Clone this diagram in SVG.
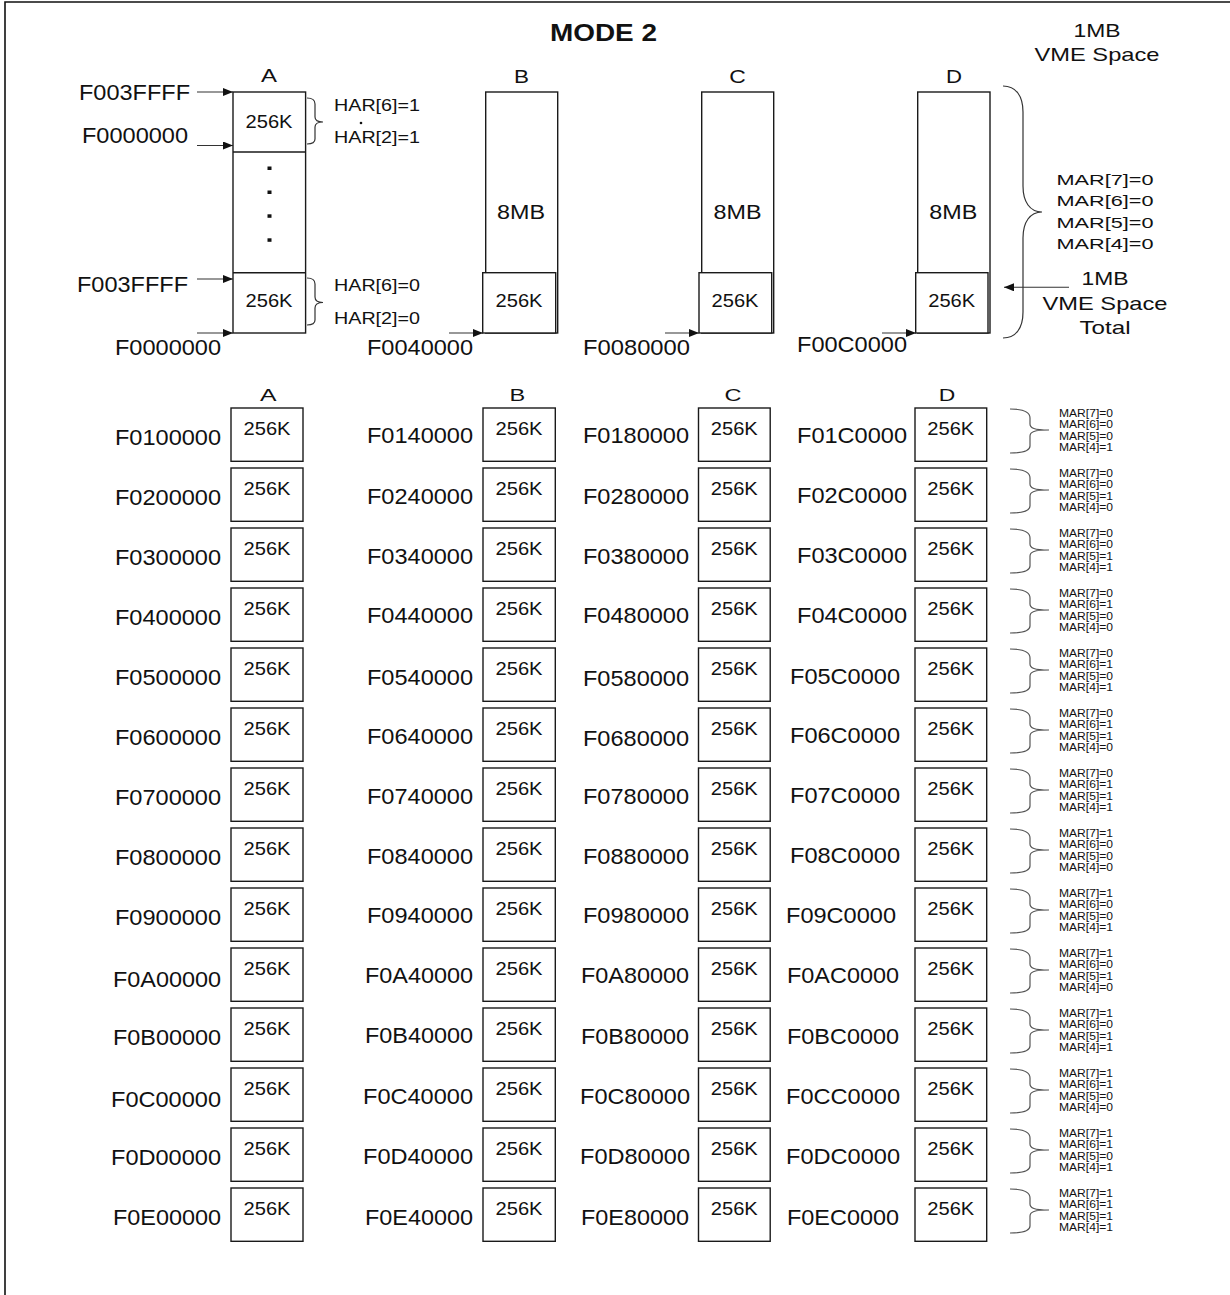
<svg xmlns="http://www.w3.org/2000/svg" xmlns:xlink="http://www.w3.org/1999/xlink" width="1230" height="1295" viewBox="0 0 1230 1295">
<style>
.bg{fill:#fff}
.frame{stroke:#111;stroke-width:1.6;fill:none}
.box{fill:#fff;stroke:#1a1a1a;stroke-width:1.4}
.t{font-family:"Liberation Sans",Arial,sans-serif;fill:#111}
.addr{font-size:21.5px}
.k{font-size:18px;text-anchor:middle}
.mb{font-size:19.5px;text-anchor:middle}
.hd{font-size:17.5px;text-anchor:middle}
.hd2{font-size:16px;text-anchor:middle}
.har{font-size:16px}
.mar{font-size:15.5px;text-anchor:middle}
.vme{font-size:18.5px;text-anchor:middle}
.sm{font-size:10.5px}
.conn{stroke:#333;stroke-width:1.1;fill:none}
.brace{stroke:#333;stroke-width:1.2;fill:none}
.sbrace{stroke:#555;stroke-width:1.2;fill:none}
.dot{fill:#111}
</style>
<defs>
<marker id="ah" markerUnits="userSpaceOnUse" markerWidth="11" markerHeight="9" refX="10" refY="4" orient="auto">
<path d="M0,0 L10,4 L0,8 z" fill="#111"/>
</marker>
<path id="sb" class="sbrace" d="M1010,1 C1022,1 1030,3 1030,10 L1030,16 C1030,20 1034,22 1049,22 C1034,22 1030,24 1030,28 L1030,38 C1030,43 1022,45 1010,45"/>
</defs>
<rect class="bg" x="0" y="0" width="1230" height="1295"/>
<path class="frame" d="M5,1295 L5,2 L1230,2"/>

<text class="t" x="550" y="41" font-size="24" font-weight="bold" textLength="107" lengthAdjust="spacingAndGlyphs">MODE 2</text>
<text class="t vme" x="1097" y="37" textLength="47" lengthAdjust="spacingAndGlyphs">1MB</text>
<text class="t vme" x="1097" y="61" textLength="125" lengthAdjust="spacingAndGlyphs">VME Space</text>

<!-- top columns -->
<g id="col-top-A">
<text class="t hd" x="269" y="82" textLength="16" lengthAdjust="spacingAndGlyphs">A</text>
<rect class="box" x="233" y="92" width="72.6" height="241"/>
<line class="box" x1="233" y1="152" x2="305.6" y2="152"/>
<line class="box" x1="233" y1="272.7" x2="305.6" y2="272.7"/>
<text class="t k" x="269" y="128" textLength="47" lengthAdjust="spacingAndGlyphs">256K</text>
<rect class="dot" x="267.5" y="166.5" width="4" height="3.5"/>
<rect class="dot" x="267.5" y="190.5" width="4" height="3.5"/>
<rect class="dot" x="267.5" y="214.3" width="4" height="3.5"/>
<rect class="dot" x="267.5" y="238.3" width="4" height="3.5"/>
<text class="t k" x="269" y="307" textLength="47" lengthAdjust="spacingAndGlyphs">256K</text>
</g>
<g id="col-top-B">
<text class="t hd" x="521.5" y="82.5" textLength="15" lengthAdjust="spacingAndGlyphs">B</text>
<rect class="box" x="485.7" y="92" width="72" height="241"/>
<text class="t mb" x="521" y="219" textLength="48" lengthAdjust="spacingAndGlyphs">8MB</text>
<rect class="box" x="482.7" y="272.7" width="73" height="60.3"/>
<text class="t k" x="519" y="307" textLength="47" lengthAdjust="spacingAndGlyphs">256K</text>
</g>
<g id="col-top-C">
<text class="t hd" x="737.5" y="82.5" textLength="16.5" lengthAdjust="spacingAndGlyphs">C</text>
<rect class="box" x="701.7" y="92" width="72" height="241"/>
<text class="t mb" x="737.5" y="219" textLength="48" lengthAdjust="spacingAndGlyphs">8MB</text>
<rect class="box" x="699" y="272.7" width="72.7" height="60.3"/>
<text class="t k" x="735" y="307" textLength="47" lengthAdjust="spacingAndGlyphs">256K</text>
</g>
<g id="col-top-D">
<text class="t hd" x="954" y="82.5" textLength="16" lengthAdjust="spacingAndGlyphs">D</text>
<rect class="box" x="917.7" y="92" width="72.3" height="241"/>
<text class="t mb" x="953.3" y="219" textLength="48" lengthAdjust="spacingAndGlyphs">8MB</text>
<rect class="box" x="915.7" y="272.7" width="72.3" height="60.3"/>
<text class="t k" x="951.7" y="307" textLength="47" lengthAdjust="spacingAndGlyphs">256K</text>
</g>

<!-- top labels -->
<g id="top-labels">
<text class="t addr" x="79" y="100" textLength="111" lengthAdjust="spacingAndGlyphs">F003FFFF</text>
<text class="t addr" x="82" y="143" textLength="106" lengthAdjust="spacingAndGlyphs">F0000000</text>
<text class="t addr" x="77" y="292" textLength="111" lengthAdjust="spacingAndGlyphs">F003FFFF</text>
<text class="t addr" x="115" y="355" textLength="106" lengthAdjust="spacingAndGlyphs">F0000000</text>
<text class="t addr" x="367" y="355" textLength="106" lengthAdjust="spacingAndGlyphs">F0040000</text>
<text class="t addr" x="583" y="355" textLength="107" lengthAdjust="spacingAndGlyphs">F0080000</text>
<text class="t addr" x="797" y="352" textLength="110" lengthAdjust="spacingAndGlyphs">F00C0000</text>
<text class="t har" x="334" y="111" textLength="86" lengthAdjust="spacingAndGlyphs">HAR[6]=1</text>
<circle class="dot" cx="361" cy="123" r="1.3"/>
<text class="t har" x="334" y="143" textLength="86" lengthAdjust="spacingAndGlyphs">HAR[2]=1</text>
<text class="t har" x="334" y="291" textLength="86" lengthAdjust="spacingAndGlyphs">HAR[6]=0</text>
<text class="t har" x="334" y="324" textLength="86" lengthAdjust="spacingAndGlyphs">HAR[2]=0</text>
<text class="t mar" x="1105" y="185" textLength="97" lengthAdjust="spacingAndGlyphs">MAR[7]=0</text>
<text class="t mar" x="1105" y="206" textLength="97" lengthAdjust="spacingAndGlyphs">MAR[6]=0</text>
<text class="t mar" x="1105" y="227.5" textLength="97" lengthAdjust="spacingAndGlyphs">MAR[5]=0</text>
<text class="t mar" x="1105" y="249" textLength="97" lengthAdjust="spacingAndGlyphs">MAR[4]=0</text>
<text class="t vme" x="1105" y="285" textLength="47" lengthAdjust="spacingAndGlyphs">1MB</text>
<text class="t vme" x="1105" y="309.5" textLength="125" lengthAdjust="spacingAndGlyphs">VME Space</text>
<text class="t vme" x="1105" y="334" textLength="51" lengthAdjust="spacingAndGlyphs">Total</text>
</g>

<g id="connectors">
<line class="conn" x1="197" y1="92" x2="233" y2="92" marker-end="url(#ah)"/>
<line class="conn" x1="197" y1="145.5" x2="233" y2="145.5" marker-end="url(#ah)"/>
<line class="conn" x1="197" y1="279" x2="233" y2="279" marker-end="url(#ah)"/>
<line class="conn" x1="197" y1="333" x2="233" y2="333" marker-end="url(#ah)"/>
<line class="conn" x1="449" y1="333" x2="483" y2="333" marker-end="url(#ah)"/>
<line class="conn" x1="665" y1="333" x2="699" y2="333" marker-end="url(#ah)"/>
<line class="conn" x1="882" y1="333" x2="916" y2="333" marker-end="url(#ah)"/>
<line class="conn" x1="1069" y1="287.3" x2="1004" y2="287.3" marker-end="url(#ah)"/>
<path class="brace" d="M307,98 C312,98 315,100 315,104 L315,117 C315,120 317,122 323,122 C317,122 315,124 315,127 L315,139 C315,142 312,144 307,144"/>
<path class="brace" d="M307,278 C312,278 315,280 315,284 L315,297 C315,300 317,302.5 323,302.5 C317,302.5 315,305 315,308 L315,320 C315,323 312,325 307,325"/>
<path class="brace" d="M1003,86 C1016,86 1023,96 1023,112 L1023,186 C1023,202 1030,212 1042,212 C1030,212 1023,222 1023,238 L1023,312 C1023,328 1016,338 1003,338"/>
<use xlink:href="#sb" y="408"/>
<use xlink:href="#sb" y="468"/>
<use xlink:href="#sb" y="528"/>
<use xlink:href="#sb" y="588"/>
<use xlink:href="#sb" y="648"/>
<use xlink:href="#sb" y="708"/>
<use xlink:href="#sb" y="768"/>
<use xlink:href="#sb" y="828"/>
<use xlink:href="#sb" y="888"/>
<use xlink:href="#sb" y="948"/>
<use xlink:href="#sb" y="1008"/>
<use xlink:href="#sb" y="1068"/>
<use xlink:href="#sb" y="1128"/>
<use xlink:href="#sb" y="1188"/>
</g>

<!-- grid headers -->
<g id="grid-headers">
<text class="t hd2" x="268.3" y="401" textLength="16.5" lengthAdjust="spacingAndGlyphs">A</text>
<text class="t hd2" x="517.3" y="401" textLength="15.7" lengthAdjust="spacingAndGlyphs">B</text>
<text class="t hd2" x="733" y="401" textLength="17" lengthAdjust="spacingAndGlyphs">C</text>
<text class="t hd2" x="947" y="401" textLength="16.5" lengthAdjust="spacingAndGlyphs">D</text>
</g>

<!-- grid boxes -->
<g id="grid-A">
<g id="A1"><rect class="box" x="231" y="408" width="72" height="53.3"/><text class="t k" x="267" y="435" textLength="47" lengthAdjust="spacingAndGlyphs">256K</text></g>
<g id="A2"><rect class="box" x="231" y="468" width="72" height="53.3"/><text class="t k" x="267" y="495" textLength="47" lengthAdjust="spacingAndGlyphs">256K</text></g>
<g id="A3"><rect class="box" x="231" y="528" width="72" height="53.3"/><text class="t k" x="267" y="555" textLength="47" lengthAdjust="spacingAndGlyphs">256K</text></g>
<g id="A4"><rect class="box" x="231" y="588" width="72" height="53.3"/><text class="t k" x="267" y="615" textLength="47" lengthAdjust="spacingAndGlyphs">256K</text></g>
<g id="A5"><rect class="box" x="231" y="648" width="72" height="53.3"/><text class="t k" x="267" y="675" textLength="47" lengthAdjust="spacingAndGlyphs">256K</text></g>
<g id="A6"><rect class="box" x="231" y="708" width="72" height="53.3"/><text class="t k" x="267" y="735" textLength="47" lengthAdjust="spacingAndGlyphs">256K</text></g>
<g id="A7"><rect class="box" x="231" y="768" width="72" height="53.3"/><text class="t k" x="267" y="795" textLength="47" lengthAdjust="spacingAndGlyphs">256K</text></g>
<g id="A8"><rect class="box" x="231" y="828" width="72" height="53.3"/><text class="t k" x="267" y="855" textLength="47" lengthAdjust="spacingAndGlyphs">256K</text></g>
<g id="A9"><rect class="box" x="231" y="888" width="72" height="53.3"/><text class="t k" x="267" y="915" textLength="47" lengthAdjust="spacingAndGlyphs">256K</text></g>
<g id="A10"><rect class="box" x="231" y="948" width="72" height="53.3"/><text class="t k" x="267" y="975" textLength="47" lengthAdjust="spacingAndGlyphs">256K</text></g>
<g id="A11"><rect class="box" x="231" y="1008" width="72" height="53.3"/><text class="t k" x="267" y="1035" textLength="47" lengthAdjust="spacingAndGlyphs">256K</text></g>
<g id="A12"><rect class="box" x="231" y="1068" width="72" height="53.3"/><text class="t k" x="267" y="1095" textLength="47" lengthAdjust="spacingAndGlyphs">256K</text></g>
<g id="A13"><rect class="box" x="231" y="1128" width="72" height="53.3"/><text class="t k" x="267" y="1155" textLength="47" lengthAdjust="spacingAndGlyphs">256K</text></g>
<g id="A14"><rect class="box" x="231" y="1188" width="72" height="53.3"/><text class="t k" x="267" y="1215" textLength="47" lengthAdjust="spacingAndGlyphs">256K</text></g>
</g>
<g id="grid-B">
<g id="B1"><rect class="box" x="483" y="408" width="72.3" height="53.3"/><text class="t k" x="519" y="435" textLength="47" lengthAdjust="spacingAndGlyphs">256K</text></g>
<g id="B2"><rect class="box" x="483" y="468" width="72.3" height="53.3"/><text class="t k" x="519" y="495" textLength="47" lengthAdjust="spacingAndGlyphs">256K</text></g>
<g id="B3"><rect class="box" x="483" y="528" width="72.3" height="53.3"/><text class="t k" x="519" y="555" textLength="47" lengthAdjust="spacingAndGlyphs">256K</text></g>
<g id="B4"><rect class="box" x="483" y="588" width="72.3" height="53.3"/><text class="t k" x="519" y="615" textLength="47" lengthAdjust="spacingAndGlyphs">256K</text></g>
<g id="B5"><rect class="box" x="483" y="648" width="72.3" height="53.3"/><text class="t k" x="519" y="675" textLength="47" lengthAdjust="spacingAndGlyphs">256K</text></g>
<g id="B6"><rect class="box" x="483" y="708" width="72.3" height="53.3"/><text class="t k" x="519" y="735" textLength="47" lengthAdjust="spacingAndGlyphs">256K</text></g>
<g id="B7"><rect class="box" x="483" y="768" width="72.3" height="53.3"/><text class="t k" x="519" y="795" textLength="47" lengthAdjust="spacingAndGlyphs">256K</text></g>
<g id="B8"><rect class="box" x="483" y="828" width="72.3" height="53.3"/><text class="t k" x="519" y="855" textLength="47" lengthAdjust="spacingAndGlyphs">256K</text></g>
<g id="B9"><rect class="box" x="483" y="888" width="72.3" height="53.3"/><text class="t k" x="519" y="915" textLength="47" lengthAdjust="spacingAndGlyphs">256K</text></g>
<g id="B10"><rect class="box" x="483" y="948" width="72.3" height="53.3"/><text class="t k" x="519" y="975" textLength="47" lengthAdjust="spacingAndGlyphs">256K</text></g>
<g id="B11"><rect class="box" x="483" y="1008" width="72.3" height="53.3"/><text class="t k" x="519" y="1035" textLength="47" lengthAdjust="spacingAndGlyphs">256K</text></g>
<g id="B12"><rect class="box" x="483" y="1068" width="72.3" height="53.3"/><text class="t k" x="519" y="1095" textLength="47" lengthAdjust="spacingAndGlyphs">256K</text></g>
<g id="B13"><rect class="box" x="483" y="1128" width="72.3" height="53.3"/><text class="t k" x="519" y="1155" textLength="47" lengthAdjust="spacingAndGlyphs">256K</text></g>
<g id="B14"><rect class="box" x="483" y="1188" width="72.3" height="53.3"/><text class="t k" x="519" y="1215" textLength="47" lengthAdjust="spacingAndGlyphs">256K</text></g>
</g>
<g id="grid-C">
<g id="C1"><rect class="box" x="698.5" y="408" width="71.7" height="53.3"/><text class="t k" x="734.3" y="435" textLength="47" lengthAdjust="spacingAndGlyphs">256K</text></g>
<g id="C2"><rect class="box" x="698.5" y="468" width="71.7" height="53.3"/><text class="t k" x="734.3" y="495" textLength="47" lengthAdjust="spacingAndGlyphs">256K</text></g>
<g id="C3"><rect class="box" x="698.5" y="528" width="71.7" height="53.3"/><text class="t k" x="734.3" y="555" textLength="47" lengthAdjust="spacingAndGlyphs">256K</text></g>
<g id="C4"><rect class="box" x="698.5" y="588" width="71.7" height="53.3"/><text class="t k" x="734.3" y="615" textLength="47" lengthAdjust="spacingAndGlyphs">256K</text></g>
<g id="C5"><rect class="box" x="698.5" y="648" width="71.7" height="53.3"/><text class="t k" x="734.3" y="675" textLength="47" lengthAdjust="spacingAndGlyphs">256K</text></g>
<g id="C6"><rect class="box" x="698.5" y="708" width="71.7" height="53.3"/><text class="t k" x="734.3" y="735" textLength="47" lengthAdjust="spacingAndGlyphs">256K</text></g>
<g id="C7"><rect class="box" x="698.5" y="768" width="71.7" height="53.3"/><text class="t k" x="734.3" y="795" textLength="47" lengthAdjust="spacingAndGlyphs">256K</text></g>
<g id="C8"><rect class="box" x="698.5" y="828" width="71.7" height="53.3"/><text class="t k" x="734.3" y="855" textLength="47" lengthAdjust="spacingAndGlyphs">256K</text></g>
<g id="C9"><rect class="box" x="698.5" y="888" width="71.7" height="53.3"/><text class="t k" x="734.3" y="915" textLength="47" lengthAdjust="spacingAndGlyphs">256K</text></g>
<g id="C10"><rect class="box" x="698.5" y="948" width="71.7" height="53.3"/><text class="t k" x="734.3" y="975" textLength="47" lengthAdjust="spacingAndGlyphs">256K</text></g>
<g id="C11"><rect class="box" x="698.5" y="1008" width="71.7" height="53.3"/><text class="t k" x="734.3" y="1035" textLength="47" lengthAdjust="spacingAndGlyphs">256K</text></g>
<g id="C12"><rect class="box" x="698.5" y="1068" width="71.7" height="53.3"/><text class="t k" x="734.3" y="1095" textLength="47" lengthAdjust="spacingAndGlyphs">256K</text></g>
<g id="C13"><rect class="box" x="698.5" y="1128" width="71.7" height="53.3"/><text class="t k" x="734.3" y="1155" textLength="47" lengthAdjust="spacingAndGlyphs">256K</text></g>
<g id="C14"><rect class="box" x="698.5" y="1188" width="71.7" height="53.3"/><text class="t k" x="734.3" y="1215" textLength="47" lengthAdjust="spacingAndGlyphs">256K</text></g>
</g>
<g id="grid-D">
<g id="D1"><rect class="box" x="915" y="408" width="71.7" height="53.3"/><text class="t k" x="950.8" y="435" textLength="47" lengthAdjust="spacingAndGlyphs">256K</text></g>
<g id="D2"><rect class="box" x="915" y="468" width="71.7" height="53.3"/><text class="t k" x="950.8" y="495" textLength="47" lengthAdjust="spacingAndGlyphs">256K</text></g>
<g id="D3"><rect class="box" x="915" y="528" width="71.7" height="53.3"/><text class="t k" x="950.8" y="555" textLength="47" lengthAdjust="spacingAndGlyphs">256K</text></g>
<g id="D4"><rect class="box" x="915" y="588" width="71.7" height="53.3"/><text class="t k" x="950.8" y="615" textLength="47" lengthAdjust="spacingAndGlyphs">256K</text></g>
<g id="D5"><rect class="box" x="915" y="648" width="71.7" height="53.3"/><text class="t k" x="950.8" y="675" textLength="47" lengthAdjust="spacingAndGlyphs">256K</text></g>
<g id="D6"><rect class="box" x="915" y="708" width="71.7" height="53.3"/><text class="t k" x="950.8" y="735" textLength="47" lengthAdjust="spacingAndGlyphs">256K</text></g>
<g id="D7"><rect class="box" x="915" y="768" width="71.7" height="53.3"/><text class="t k" x="950.8" y="795" textLength="47" lengthAdjust="spacingAndGlyphs">256K</text></g>
<g id="D8"><rect class="box" x="915" y="828" width="71.7" height="53.3"/><text class="t k" x="950.8" y="855" textLength="47" lengthAdjust="spacingAndGlyphs">256K</text></g>
<g id="D9"><rect class="box" x="915" y="888" width="71.7" height="53.3"/><text class="t k" x="950.8" y="915" textLength="47" lengthAdjust="spacingAndGlyphs">256K</text></g>
<g id="D10"><rect class="box" x="915" y="948" width="71.7" height="53.3"/><text class="t k" x="950.8" y="975" textLength="47" lengthAdjust="spacingAndGlyphs">256K</text></g>
<g id="D11"><rect class="box" x="915" y="1008" width="71.7" height="53.3"/><text class="t k" x="950.8" y="1035" textLength="47" lengthAdjust="spacingAndGlyphs">256K</text></g>
<g id="D12"><rect class="box" x="915" y="1068" width="71.7" height="53.3"/><text class="t k" x="950.8" y="1095" textLength="47" lengthAdjust="spacingAndGlyphs">256K</text></g>
<g id="D13"><rect class="box" x="915" y="1128" width="71.7" height="53.3"/><text class="t k" x="950.8" y="1155" textLength="47" lengthAdjust="spacingAndGlyphs">256K</text></g>
<g id="D14"><rect class="box" x="915" y="1188" width="71.7" height="53.3"/><text class="t k" x="950.8" y="1215" textLength="47" lengthAdjust="spacingAndGlyphs">256K</text></g>
</g>

<!-- address labels -->
<g id="labels-A">
<text class="t addr" x="115" y="445" textLength="106" lengthAdjust="spacingAndGlyphs">F0100000</text>
<text class="t addr" x="115" y="505" textLength="106" lengthAdjust="spacingAndGlyphs">F0200000</text>
<text class="t addr" x="115" y="565" textLength="106" lengthAdjust="spacingAndGlyphs">F0300000</text>
<text class="t addr" x="115" y="625" textLength="106" lengthAdjust="spacingAndGlyphs">F0400000</text>
<text class="t addr" x="115" y="685" textLength="106" lengthAdjust="spacingAndGlyphs">F0500000</text>
<text class="t addr" x="115" y="745" textLength="106" lengthAdjust="spacingAndGlyphs">F0600000</text>
<text class="t addr" x="115" y="805" textLength="106" lengthAdjust="spacingAndGlyphs">F0700000</text>
<text class="t addr" x="115" y="865" textLength="106" lengthAdjust="spacingAndGlyphs">F0800000</text>
<text class="t addr" x="115" y="925" textLength="106" lengthAdjust="spacingAndGlyphs">F0900000</text>
<text class="t addr" x="113" y="987" textLength="108" lengthAdjust="spacingAndGlyphs">F0A00000</text>
<text class="t addr" x="113" y="1045" textLength="108" lengthAdjust="spacingAndGlyphs">F0B00000</text>
<text class="t addr" x="111" y="1107" textLength="110" lengthAdjust="spacingAndGlyphs">F0C00000</text>
<text class="t addr" x="111" y="1165" textLength="110" lengthAdjust="spacingAndGlyphs">F0D00000</text>
<text class="t addr" x="113" y="1225" textLength="108" lengthAdjust="spacingAndGlyphs">F0E00000</text>
</g>
<g id="labels-B">
<text class="t addr" x="367" y="443" textLength="106" lengthAdjust="spacingAndGlyphs">F0140000</text>
<text class="t addr" x="367" y="504" textLength="106" lengthAdjust="spacingAndGlyphs">F0240000</text>
<text class="t addr" x="367" y="564" textLength="106" lengthAdjust="spacingAndGlyphs">F0340000</text>
<text class="t addr" x="367" y="623" textLength="106" lengthAdjust="spacingAndGlyphs">F0440000</text>
<text class="t addr" x="367" y="685" textLength="106" lengthAdjust="spacingAndGlyphs">F0540000</text>
<text class="t addr" x="367" y="744" textLength="106" lengthAdjust="spacingAndGlyphs">F0640000</text>
<text class="t addr" x="367" y="804" textLength="106" lengthAdjust="spacingAndGlyphs">F0740000</text>
<text class="t addr" x="367" y="864" textLength="106" lengthAdjust="spacingAndGlyphs">F0840000</text>
<text class="t addr" x="367" y="923" textLength="106" lengthAdjust="spacingAndGlyphs">F0940000</text>
<text class="t addr" x="365" y="983" textLength="108" lengthAdjust="spacingAndGlyphs">F0A40000</text>
<text class="t addr" x="365" y="1043" textLength="108" lengthAdjust="spacingAndGlyphs">F0B40000</text>
<text class="t addr" x="363" y="1104" textLength="110" lengthAdjust="spacingAndGlyphs">F0C40000</text>
<text class="t addr" x="363" y="1164" textLength="110" lengthAdjust="spacingAndGlyphs">F0D40000</text>
<text class="t addr" x="365" y="1225" textLength="108" lengthAdjust="spacingAndGlyphs">F0E40000</text>
</g>
<g id="labels-C">
<text class="t addr" x="583" y="443" textLength="106" lengthAdjust="spacingAndGlyphs">F0180000</text>
<text class="t addr" x="583" y="504" textLength="106" lengthAdjust="spacingAndGlyphs">F0280000</text>
<text class="t addr" x="583" y="564" textLength="106" lengthAdjust="spacingAndGlyphs">F0380000</text>
<text class="t addr" x="583" y="623" textLength="106" lengthAdjust="spacingAndGlyphs">F0480000</text>
<text class="t addr" x="583" y="686" textLength="106" lengthAdjust="spacingAndGlyphs">F0580000</text>
<text class="t addr" x="583" y="746" textLength="106" lengthAdjust="spacingAndGlyphs">F0680000</text>
<text class="t addr" x="583" y="804" textLength="106" lengthAdjust="spacingAndGlyphs">F0780000</text>
<text class="t addr" x="583" y="864" textLength="106" lengthAdjust="spacingAndGlyphs">F0880000</text>
<text class="t addr" x="583" y="923" textLength="106" lengthAdjust="spacingAndGlyphs">F0980000</text>
<text class="t addr" x="581" y="983" textLength="108" lengthAdjust="spacingAndGlyphs">F0A80000</text>
<text class="t addr" x="581" y="1044" textLength="108" lengthAdjust="spacingAndGlyphs">F0B80000</text>
<text class="t addr" x="580" y="1104" textLength="110" lengthAdjust="spacingAndGlyphs">F0C80000</text>
<text class="t addr" x="580" y="1164" textLength="110" lengthAdjust="spacingAndGlyphs">F0D80000</text>
<text class="t addr" x="581" y="1225" textLength="108" lengthAdjust="spacingAndGlyphs">F0E80000</text>
</g>
<g id="labels-D">
<text class="t addr" x="797" y="443" textLength="110" lengthAdjust="spacingAndGlyphs">F01C0000</text>
<text class="t addr" x="797" y="503" textLength="110" lengthAdjust="spacingAndGlyphs">F02C0000</text>
<text class="t addr" x="797" y="563" textLength="110" lengthAdjust="spacingAndGlyphs">F03C0000</text>
<text class="t addr" x="797" y="623" textLength="110" lengthAdjust="spacingAndGlyphs">F04C0000</text>
<text class="t addr" x="790" y="684" textLength="110" lengthAdjust="spacingAndGlyphs">F05C0000</text>
<text class="t addr" x="790" y="743" textLength="110" lengthAdjust="spacingAndGlyphs">F06C0000</text>
<text class="t addr" x="790" y="803" textLength="110" lengthAdjust="spacingAndGlyphs">F07C0000</text>
<text class="t addr" x="790" y="863" textLength="110" lengthAdjust="spacingAndGlyphs">F08C0000</text>
<text class="t addr" x="786" y="923" textLength="110" lengthAdjust="spacingAndGlyphs">F09C0000</text>
<text class="t addr" x="787" y="983" textLength="112" lengthAdjust="spacingAndGlyphs">F0AC0000</text>
<text class="t addr" x="787" y="1044" textLength="112" lengthAdjust="spacingAndGlyphs">F0BC0000</text>
<text class="t addr" x="786" y="1104" textLength="114" lengthAdjust="spacingAndGlyphs">F0CC0000</text>
<text class="t addr" x="786" y="1164" textLength="114" lengthAdjust="spacingAndGlyphs">F0DC0000</text>
<text class="t addr" x="787" y="1225" textLength="112" lengthAdjust="spacingAndGlyphs">F0EC0000</text>
</g>

<!-- small MAR labels -->
<g id="mar-labels">
<text class="t sm" x="1059" y="416.5" textLength="54" lengthAdjust="spacingAndGlyphs">MAR[7]=0</text><text class="t sm" x="1059" y="428" textLength="54" lengthAdjust="spacingAndGlyphs">MAR[6]=0</text><text class="t sm" x="1059" y="439.5" textLength="54" lengthAdjust="spacingAndGlyphs">MAR[5]=0</text><text class="t sm" x="1059" y="451" textLength="54" lengthAdjust="spacingAndGlyphs">MAR[4]=1</text>
<text class="t sm" x="1059" y="476.5" textLength="54" lengthAdjust="spacingAndGlyphs">MAR[7]=0</text><text class="t sm" x="1059" y="488" textLength="54" lengthAdjust="spacingAndGlyphs">MAR[6]=0</text><text class="t sm" x="1059" y="499.5" textLength="54" lengthAdjust="spacingAndGlyphs">MAR[5]=1</text><text class="t sm" x="1059" y="511" textLength="54" lengthAdjust="spacingAndGlyphs">MAR[4]=0</text>
<text class="t sm" x="1059" y="536.5" textLength="54" lengthAdjust="spacingAndGlyphs">MAR[7]=0</text><text class="t sm" x="1059" y="548" textLength="54" lengthAdjust="spacingAndGlyphs">MAR[6]=0</text><text class="t sm" x="1059" y="559.5" textLength="54" lengthAdjust="spacingAndGlyphs">MAR[5]=1</text><text class="t sm" x="1059" y="571" textLength="54" lengthAdjust="spacingAndGlyphs">MAR[4]=1</text>
<text class="t sm" x="1059" y="596.5" textLength="54" lengthAdjust="spacingAndGlyphs">MAR[7]=0</text><text class="t sm" x="1059" y="608" textLength="54" lengthAdjust="spacingAndGlyphs">MAR[6]=1</text><text class="t sm" x="1059" y="619.5" textLength="54" lengthAdjust="spacingAndGlyphs">MAR[5]=0</text><text class="t sm" x="1059" y="631" textLength="54" lengthAdjust="spacingAndGlyphs">MAR[4]=0</text>
<text class="t sm" x="1059" y="656.5" textLength="54" lengthAdjust="spacingAndGlyphs">MAR[7]=0</text><text class="t sm" x="1059" y="668" textLength="54" lengthAdjust="spacingAndGlyphs">MAR[6]=1</text><text class="t sm" x="1059" y="679.5" textLength="54" lengthAdjust="spacingAndGlyphs">MAR[5]=0</text><text class="t sm" x="1059" y="691" textLength="54" lengthAdjust="spacingAndGlyphs">MAR[4]=1</text>
<text class="t sm" x="1059" y="716.5" textLength="54" lengthAdjust="spacingAndGlyphs">MAR[7]=0</text><text class="t sm" x="1059" y="728" textLength="54" lengthAdjust="spacingAndGlyphs">MAR[6]=1</text><text class="t sm" x="1059" y="739.5" textLength="54" lengthAdjust="spacingAndGlyphs">MAR[5]=1</text><text class="t sm" x="1059" y="751" textLength="54" lengthAdjust="spacingAndGlyphs">MAR[4]=0</text>
<text class="t sm" x="1059" y="776.5" textLength="54" lengthAdjust="spacingAndGlyphs">MAR[7]=0</text><text class="t sm" x="1059" y="788" textLength="54" lengthAdjust="spacingAndGlyphs">MAR[6]=1</text><text class="t sm" x="1059" y="799.5" textLength="54" lengthAdjust="spacingAndGlyphs">MAR[5]=1</text><text class="t sm" x="1059" y="811" textLength="54" lengthAdjust="spacingAndGlyphs">MAR[4]=1</text>
<text class="t sm" x="1059" y="836.5" textLength="54" lengthAdjust="spacingAndGlyphs">MAR[7]=1</text><text class="t sm" x="1059" y="848" textLength="54" lengthAdjust="spacingAndGlyphs">MAR[6]=0</text><text class="t sm" x="1059" y="859.5" textLength="54" lengthAdjust="spacingAndGlyphs">MAR[5]=0</text><text class="t sm" x="1059" y="871" textLength="54" lengthAdjust="spacingAndGlyphs">MAR[4]=0</text>
<text class="t sm" x="1059" y="896.5" textLength="54" lengthAdjust="spacingAndGlyphs">MAR[7]=1</text><text class="t sm" x="1059" y="908" textLength="54" lengthAdjust="spacingAndGlyphs">MAR[6]=0</text><text class="t sm" x="1059" y="919.5" textLength="54" lengthAdjust="spacingAndGlyphs">MAR[5]=0</text><text class="t sm" x="1059" y="931" textLength="54" lengthAdjust="spacingAndGlyphs">MAR[4]=1</text>
<text class="t sm" x="1059" y="956.5" textLength="54" lengthAdjust="spacingAndGlyphs">MAR[7]=1</text><text class="t sm" x="1059" y="968" textLength="54" lengthAdjust="spacingAndGlyphs">MAR[6]=0</text><text class="t sm" x="1059" y="979.5" textLength="54" lengthAdjust="spacingAndGlyphs">MAR[5]=1</text><text class="t sm" x="1059" y="991" textLength="54" lengthAdjust="spacingAndGlyphs">MAR[4]=0</text>
<text class="t sm" x="1059" y="1016.5" textLength="54" lengthAdjust="spacingAndGlyphs">MAR[7]=1</text><text class="t sm" x="1059" y="1028" textLength="54" lengthAdjust="spacingAndGlyphs">MAR[6]=0</text><text class="t sm" x="1059" y="1039.5" textLength="54" lengthAdjust="spacingAndGlyphs">MAR[5]=1</text><text class="t sm" x="1059" y="1051" textLength="54" lengthAdjust="spacingAndGlyphs">MAR[4]=1</text>
<text class="t sm" x="1059" y="1076.5" textLength="54" lengthAdjust="spacingAndGlyphs">MAR[7]=1</text><text class="t sm" x="1059" y="1088" textLength="54" lengthAdjust="spacingAndGlyphs">MAR[6]=1</text><text class="t sm" x="1059" y="1099.5" textLength="54" lengthAdjust="spacingAndGlyphs">MAR[5]=0</text><text class="t sm" x="1059" y="1111" textLength="54" lengthAdjust="spacingAndGlyphs">MAR[4]=0</text>
<text class="t sm" x="1059" y="1136.5" textLength="54" lengthAdjust="spacingAndGlyphs">MAR[7]=1</text><text class="t sm" x="1059" y="1148" textLength="54" lengthAdjust="spacingAndGlyphs">MAR[6]=1</text><text class="t sm" x="1059" y="1159.5" textLength="54" lengthAdjust="spacingAndGlyphs">MAR[5]=0</text><text class="t sm" x="1059" y="1171" textLength="54" lengthAdjust="spacingAndGlyphs">MAR[4]=1</text>
<text class="t sm" x="1059" y="1196.5" textLength="54" lengthAdjust="spacingAndGlyphs">MAR[7]=1</text><text class="t sm" x="1059" y="1208" textLength="54" lengthAdjust="spacingAndGlyphs">MAR[6]=1</text><text class="t sm" x="1059" y="1219.5" textLength="54" lengthAdjust="spacingAndGlyphs">MAR[5]=1</text><text class="t sm" x="1059" y="1231" textLength="54" lengthAdjust="spacingAndGlyphs">MAR[4]=1</text>
</g>
</svg>
